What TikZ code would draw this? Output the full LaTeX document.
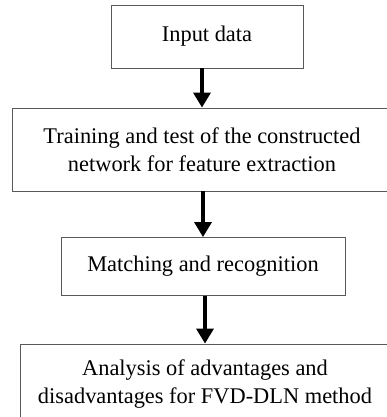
\documentclass[tikz,border=0pt]{standalone}
\usepackage{fontspec}
\setmainfont{Liberation Serif}
\usetikzlibrary{arrows.meta}

\tikzset{
    stepbox/.style={draw=black!65, line width=0.9pt, align=center, inner sep=0pt,
        font=\fontsize{22.4}{27.5}\selectfont},
    flow/.style={line width=3.5pt, -{Triangle[width=17pt,length=15pt]}}
}

\begin{document}
\begin{tikzpicture}[x=1pt,y=1pt]

    \useasboundingbox (0,0) rectangle (387,-417);
    \clip (0,0) rectangle (387,-417);

    \node[stepbox, minimum width=192, minimum height=63] (input) at (207,-36.5) {Input data};
    \node[stepbox, minimum width=379, minimum height=83] (train) at (202,-149.5)
        {Training and test of the constructed\\network for feature extraction};
    \node[stepbox, minimum width=284, minimum height=58] (match) at (203,-266.5) {Matching and recognition};
    \node[stepbox, minimum width=369, minimum height=80] (analysis) at (205,-384)
        {Analysis of advantages and\\disadvantages for FVD-DLN method};

    \draw[flow] (train.north |- input.south) -- (train.north);
    \draw[flow] (match.north |- train.south) -- (match.north);
    \draw[flow] (analysis.north |- match.south) -- (analysis.north);

\end{tikzpicture}
\end{document}
